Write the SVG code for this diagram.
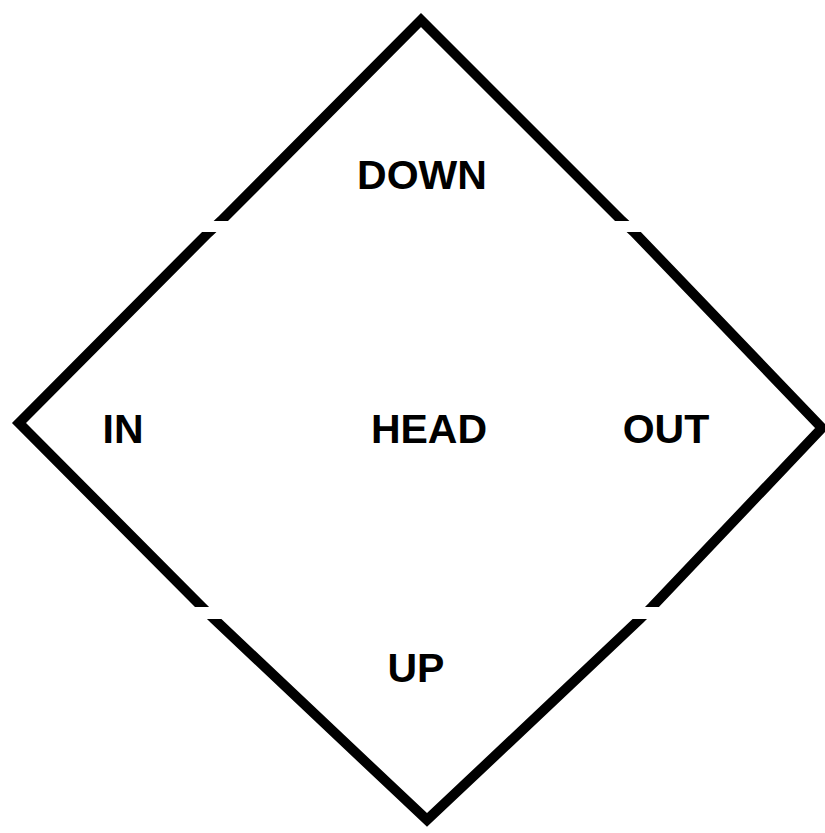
<svg xmlns="http://www.w3.org/2000/svg" width="825" height="833" viewBox="0 0 825 833">
<style>
.lbl{font-family:"Liberation Sans",Arial,sans-serif;font-weight:bold;font-size:41px;fill:#000;text-anchor:middle}
.edge{fill:none;stroke:#000;stroke-width:10;stroke-linejoin:miter;stroke-miterlimit:10}
.gap{fill:#fff}
</style>
<rect width="825" height="833" fill="#fff"/>
<g id="connectors">
<polygon class="edge" points="421,20 622,221 634,232 822,428 652,607 640,619 427,820 214,619 202,607 19,423 208,233 221,221"/>
<rect class="gap" x="190" y="221" width="50" height="11"/>
<rect class="gap" x="605" y="221" width="50" height="11"/>
<rect class="gap" x="185" y="607" width="50" height="12"/>
<rect class="gap" x="620" y="607" width="55" height="12"/>
</g>
<g id="down"><text class="lbl" x="422" y="189">DOWN</text></g>
<g id="in"><text class="lbl" x="123" y="443">IN</text></g>
<g id="head"><text class="lbl" x="429" y="443">HEAD</text></g>
<g id="out"><text class="lbl" x="666" y="443">OUT</text></g>
<g id="up"><text class="lbl" x="416" y="682">UP</text></g>
</svg>
